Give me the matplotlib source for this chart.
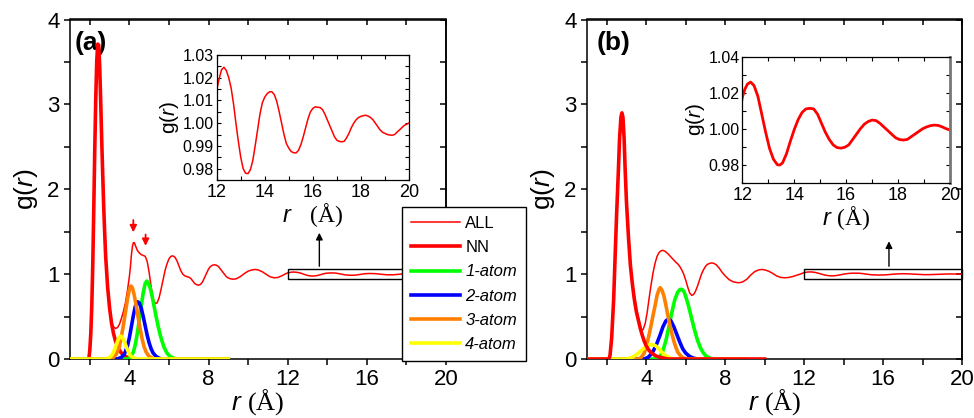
import matplotlib
matplotlib.use("Agg")
import matplotlib.pyplot as plt
from matplotlib.patches import Rectangle
from matplotlib.lines import Line2D
from matplotlib.ticker import MultipleLocator

plt.rcParams['font.family'] = ['Liberation Sans', 'DejaVu Sans']
plt.rcParams['mathtext.fontset'] = 'custom'
plt.rcParams['mathtext.rm'] = 'Liberation Serif'
plt.rcParams['mathtext.it'] = 'Liberation Sans:italic'
plt.rcParams['mathtext.sf'] = 'Liberation Sans'

# ---------------- panel (a) ----------------
r_all_a = [1.0, 1.95, 2.0, 2.05, 2.1, 2.15, 2.2, 2.25, 2.3, 2.35, 2.4, 2.45, 2.5, 2.55, 2.6, 2.65,
           2.7, 2.75, 2.8, 2.85, 2.9, 2.95, 3.0, 3.05, 3.1, 3.2, 3.3, 3.4, 3.5, 3.6, 3.7, 3.8, 3.9,
           4.0, 4.05, 4.1, 4.15, 4.2, 4.25, 4.3, 4.4, 4.5, 4.6, 4.7, 4.8, 4.9, 5.0, 5.1, 5.2, 5.3,
           5.4, 5.5, 5.6, 5.7, 5.8, 5.9, 6.0, 6.1, 6.2, 6.3, 6.4, 6.5, 6.6, 6.7, 6.8, 6.9, 7.0, 7.1,
           7.2, 7.3, 7.4, 7.5, 7.6, 7.7, 7.8, 7.9, 8.0, 8.1, 8.2, 8.3, 8.4, 8.5, 8.6, 8.7, 8.8, 8.9,
           9.0, 9.1, 9.25, 9.4, 9.6, 9.8, 10.0, 10.2, 10.35, 10.5, 10.7, 10.9, 11.1, 11.3, 11.5,
           11.7, 11.9,
           12.0, 12.1, 12.2, 12.3, 12.4, 12.5, 12.6, 12.7, 12.8, 12.9, 13.0, 13.1, 13.2, 13.3, 13.4,
           13.5, 13.6, 13.7, 13.8, 13.9, 14.0, 14.1, 14.2, 14.3, 14.4, 14.5, 14.6, 14.7, 14.8, 14.9,
           15.0, 15.1, 15.2, 15.3, 15.4, 15.5, 15.6, 15.7, 15.8, 15.9, 16.0, 16.1, 16.2, 16.3, 16.4,
           16.5, 16.6, 16.7, 16.8, 16.9, 17.0, 17.1, 17.2, 17.3, 17.4, 17.5, 17.6, 17.7, 17.8, 17.9,
           18.0, 18.1, 18.2, 18.3, 18.4, 18.5, 18.6, 18.7, 18.8, 18.9, 19.0, 19.1, 19.2, 19.3, 19.4,
           19.5, 19.6, 19.7, 19.8, 19.9, 20.0]
g_all_a = [0, 0, 0.10, 0.30, 0.62, 1.10, 1.75, 2.45, 3.05, 3.50, 3.71, 3.70, 3.45, 3.05, 2.60, 2.20,
           1.85, 1.55, 1.28, 1.05, 0.87, 0.72, 0.60, 0.50, 0.43, 0.38, 0.36, 0.37, 0.41, 0.48, 0.56,
           0.66, 0.80, 0.97, 1.08, 1.22, 1.32, 1.37, 1.37, 1.34, 1.28, 1.25, 1.23, 1.22, 1.21, 1.15,
           1.02, 0.85, 0.71, 0.655, 0.66, 0.72, 0.82, 0.93, 1.04, 1.12, 1.18, 1.21, 1.215, 1.20,
           1.16, 1.10, 1.04, 1.00, 0.98, 0.97, 0.965, 0.95, 0.92, 0.89, 0.875, 0.87, 0.88, 0.91,
           0.96, 1.01, 1.06, 1.09, 1.105, 1.11, 1.105, 1.09, 1.06, 1.03, 1.00, 0.97, 0.955, 0.945,
           0.94, 0.945, 0.97, 1.005, 1.035, 1.05, 1.055, 1.05, 1.03, 1.00, 0.97, 0.957, 0.96, 0.98,
           1.005,
           1.0146, 1.0195, 1.0235, 1.0246, 1.0232, 1.0200, 1.0155, 1.0085, 1.0000, 0.9920, 0.9850,
           0.9800, 0.9780, 0.9778, 0.9795, 0.9835, 0.9900, 0.9970, 1.0040, 1.0090, 1.0115, 1.0130,
           1.0138, 1.0138, 1.0125, 1.0095, 1.0050, 1.0000, 0.9950, 0.9910, 0.9890, 0.9875, 0.9870,
           0.9869, 0.9880, 0.9905, 0.9940, 0.9980, 1.0020, 1.0050, 1.0065, 1.0072, 1.0070, 1.0069,
           1.0060, 1.0040, 1.0015, 0.9990, 0.9965, 0.9940, 0.9925, 0.9920, 0.9918, 0.9920, 0.9935,
           0.9955, 0.9980, 1.0000, 1.0015, 1.0025, 1.0030, 1.0033, 1.0035, 1.0031, 1.0025, 1.0015,
           1.0000, 0.9985, 0.9970, 0.9960, 0.9955, 0.9950, 0.9948, 0.9947, 0.9950, 0.9960, 0.9970,
           0.9980, 0.9990, 0.9995, 1.0001]

r_nn_a = [1.0, 1.95, 2.0, 2.05, 2.1, 2.15, 2.2, 2.25, 2.3, 2.35, 2.4, 2.45, 2.5, 2.55, 2.6, 2.65,
          2.7, 2.75, 2.8, 2.9, 3.0, 3.1, 3.2, 3.3, 3.45, 3.6, 3.8, 4.0, 4.3]
g_nn_a = [0, 0, 0.10, 0.30, 0.62, 1.10, 1.75, 2.45, 3.05, 3.50, 3.71, 3.70, 3.45, 3.05, 2.60, 2.20,
          1.82, 1.50, 1.22, 0.85, 0.60, 0.42, 0.30, 0.21, 0.12, 0.07, 0.03, 0.01, 0]

r_1at_a = [1.0, 3.9, 4.05, 4.2, 4.3, 4.4, 4.5, 4.6, 4.7, 4.8, 4.88, 4.95, 5.05, 5.15, 5.25, 5.35,
           5.45, 5.55, 5.65, 5.75, 5.9, 6.05, 6.25, 6.4, 9.0]
g_1at_a = [0, 0, 0.02, 0.08, 0.17, 0.30, 0.46, 0.63, 0.78, 0.89, 0.918, 0.90, 0.84, 0.74, 0.62, 0.50,
           0.39, 0.29, 0.21, 0.14, 0.07, 0.03, 0.008, 0, 0]
r_2at_a = [1.0, 3.4, 3.6, 3.75, 3.9, 4.0, 4.1, 4.2, 4.3, 4.42, 4.5, 4.6, 4.7, 4.8, 4.9, 5.0, 5.1,
           5.2, 5.35, 5.55, 5.7, 9.0]
g_2at_a = [0, 0, 0.02, 0.06, 0.15, 0.25, 0.38, 0.51, 0.62, 0.674, 0.66, 0.60, 0.50, 0.39, 0.28, 0.19,
           0.12, 0.07, 0.03, 0.005, 0, 0]
r_3at_a = [1.0, 3.0, 3.2, 3.35, 3.5, 3.6, 3.7, 3.8, 3.9, 4.0, 4.08, 4.15, 4.25, 4.35, 4.45, 4.55,
           4.65, 4.75, 4.85, 5.0, 5.2, 5.4, 9.0]
g_3at_a = [0, 0, 0.02, 0.06, 0.15, 0.27, 0.40, 0.55, 0.70, 0.82, 0.86, 0.84, 0.75, 0.62, 0.48, 0.35,
           0.23, 0.14, 0.08, 0.03, 0.005, 0, 0]
r_4at_a = [1.0, 2.8, 2.95, 3.1, 3.2, 3.3, 3.4, 3.5, 3.55, 3.6, 3.7, 3.8, 3.9, 4.0, 4.1, 4.25, 4.4, 9.0]
g_4at_a = [0, 0, 0.01, 0.04, 0.08, 0.14, 0.21, 0.26, 0.27, 0.265, 0.23, 0.17, 0.11, 0.06, 0.03, 0.01,
           0, 0]

# ---------------- panel (b) ----------------
r_all_b = [1.0, 2.12, 2.17, 2.25, 2.35, 2.43, 2.5, 2.59, 2.65, 2.72, 2.77, 2.82, 2.88, 2.93, 3.0,
           3.1, 3.2, 3.3, 3.4, 3.5, 3.6, 3.7, 3.78, 3.85, 3.95, 4.05, 4.15, 4.25, 4.35, 4.45, 4.55,
           4.65, 4.75, 4.85, 4.95, 5.1, 5.3, 5.5, 5.6, 5.7, 5.8, 5.9, 6.0, 6.1, 6.2, 6.3, 6.4, 6.5,
           6.6, 6.7, 6.8, 6.9, 7.0, 7.1, 7.25, 7.4, 7.55, 7.7, 7.85, 8.0, 8.2, 8.4, 8.6, 8.75, 8.9,
           9.1, 9.3, 9.5, 9.7, 9.87, 10.0, 10.2, 10.4, 10.6, 10.8, 11.0, 11.2, 11.4, 11.6, 11.8,
           12.0, 12.1, 12.2, 12.32, 12.45, 12.6, 12.75, 12.9, 13.05, 13.2, 13.35, 13.44, 13.55, 13.7,
           13.85, 14.0, 14.15, 14.3, 14.45, 14.6, 14.75, 14.9, 15.05, 15.2, 15.35, 15.5, 15.65, 15.8,
           15.95, 16.1, 16.25, 16.4, 16.55, 16.7, 16.85, 17.0, 17.15, 17.3, 17.45, 17.6, 17.75, 17.9,
           18.05, 18.2, 18.35, 18.5, 18.65, 18.8, 18.95, 19.1, 19.25, 19.4, 19.55, 19.7, 19.85, 20.0]
g_all_b = [0, 0, 0.05, 0.25, 0.70, 1.24, 1.70, 2.22, 2.60, 2.85, 2.90, 2.85, 2.60, 2.25, 1.85,
           1.44, 1.12, 0.90, 0.74, 0.60, 0.48, 0.39, 0.34, 0.35, 0.42, 0.55, 0.72, 0.88, 1.02, 1.13,
           1.21, 1.255, 1.275, 1.28, 1.27, 1.24, 1.19, 1.14, 1.12, 1.09, 1.05, 1.00, 0.93, 0.85,
           0.78, 0.75, 0.76, 0.80, 0.86, 0.93, 1.00, 1.05, 1.09, 1.115, 1.13, 1.13, 1.11, 1.07, 1.02,
           0.98, 0.935, 0.91, 0.90, 0.90, 0.91, 0.94, 0.99, 1.03, 1.05, 1.055, 1.05, 1.035, 1.01,
           0.98, 0.962, 0.957, 0.96, 0.97, 0.985, 1.00,
           1.0174, 1.0220, 1.0248, 1.0259, 1.0240, 1.0180, 1.0080, 0.9980, 0.9890, 0.9830, 0.9800,
           0.9798, 0.9810, 0.9860, 0.9930, 0.9995, 1.0050, 1.0090, 1.0110, 1.0113, 1.0110, 1.0080,
           1.0030, 0.9980, 0.9940, 0.9910, 0.9895, 0.9892, 0.9897, 0.9910, 0.9940, 0.9970, 1.0000,
           1.0025, 1.0040, 1.0048, 1.0045, 1.0030, 1.0010, 0.9990, 0.9970, 0.9950, 0.9940, 0.9937,
           0.9940, 0.9955, 0.9970, 0.9985, 1.0000, 1.0010, 1.0017, 1.0020, 1.0018, 1.0010, 1.0000,
           0.9993]

r_nn_b = [1.0, 2.12, 2.17, 2.25, 2.35, 2.43, 2.5, 2.59, 2.65, 2.72, 2.77, 2.82, 2.88, 2.93, 3.0,
          3.1, 3.2, 3.3, 3.4, 3.5, 3.6, 3.7, 3.8, 3.9, 4.0, 4.15, 4.3, 4.5, 4.7, 4.9, 5.1, 10.0]
g_nn_b = [0, 0, 0.05, 0.25, 0.70, 1.24, 1.70, 2.22, 2.60, 2.85, 2.90, 2.85, 2.60, 2.25, 1.85,
          1.44, 1.10, 0.88, 0.70, 0.56, 0.46, 0.36, 0.28, 0.21, 0.155, 0.10, 0.065, 0.035, 0.02,
          0.01, 0, 0]

r_1at_b = [1.0, 4.5, 4.7, 4.85, 5.0, 5.15, 5.3, 5.45, 5.6, 5.72, 5.81, 5.9, 6.0, 6.15, 6.3, 6.45,
           6.6, 6.75, 6.9, 7.05, 7.25, 7.4, 9.0]
g_1at_b = [0, 0, 0.03, 0.10, 0.22, 0.38, 0.55, 0.70, 0.79, 0.82, 0.82, 0.80, 0.74, 0.62, 0.48, 0.34,
           0.22, 0.13, 0.07, 0.03, 0.01, 0, 0]
r_2at_b = [1.0, 3.9, 4.1, 4.3, 4.5, 4.7, 4.85, 5.0, 5.13, 5.25, 5.4, 5.55, 5.7, 5.85, 6.0, 6.2, 6.4,
           6.6, 9.0]
g_2at_b = [0, 0, 0.02, 0.07, 0.16, 0.28, 0.38, 0.45, 0.47, 0.45, 0.38, 0.29, 0.20, 0.12, 0.07, 0.03,
           0.01, 0, 0]
r_3at_b = [1.0, 3.6, 3.75, 3.9, 4.0, 4.12, 4.25, 4.35, 4.46, 4.55, 4.65, 4.71, 4.8, 4.9, 5.0, 5.1,
           5.2, 5.3, 5.4, 5.5, 5.6, 5.75, 5.9, 6.1, 9.0]
g_3at_b = [0, 0, 0.02, 0.07, 0.14, 0.26, 0.40, 0.52, 0.64, 0.75, 0.82, 0.84, 0.81, 0.74, 0.63, 0.51,
           0.40, 0.30, 0.21, 0.14, 0.08, 0.035, 0.01, 0, 0]
r_4at_b = [1.0, 3.0, 3.3, 3.5, 3.7, 3.9, 4.05, 4.25, 4.45, 4.6, 4.75, 4.9, 5.05, 5.2, 5.4, 9.0]
g_4at_b = [0, 0, 0.02, 0.05, 0.09, 0.13, 0.16, 0.17, 0.16, 0.13, 0.09, 0.055, 0.03, 0.012, 0, 0]

labels = ['ALL', 'NN', '1-atom', '2-atom', '3-atom', '4-atom']
colors = ['#ff0000', '#ff0000', '#00ff00', '#0000ff', '#ff8000', '#ffff00']

W, H = 974, 418
fig = plt.figure(figsize=(W / 100, H / 100), dpi=100)


def px_axes(left, top, right, bottom):
    return fig.add_axes([left / W, 1 - bottom / H, (right - left) / W, (bottom - top) / H])


def style_main(ax):
    ax.set_xlim(1, 20)
    ax.set_ylim(0, 4)
    ax.xaxis.set_major_locator(MultipleLocator(4))
    ax.xaxis.set_minor_locator(MultipleLocator(2))
    ax.yaxis.set_major_locator(MultipleLocator(1))
    ax.yaxis.set_minor_locator(MultipleLocator(0.5))
    ax.tick_params(which='both', direction='out', top=False, right=False, labelsize=16,
                   width=1.1, length=4.5, pad=3)
    for s in ax.spines.values():
        s.set_linewidth(1.1)
    ax.set_xlabel(r'$\mathit{r}\ \mathrm{(Å)}$', fontsize=19, labelpad=-2)
    ax.set_ylabel(r'$\mathsf{g(}\mathit{r}\mathsf{)}$', fontsize=19, labelpad=5)


def add_inner_ticks(ax):
    top = ax.secondary_xaxis('top')
    top.xaxis.set_major_locator(MultipleLocator(4))
    top.xaxis.set_minor_locator(MultipleLocator(2))
    top.tick_params(which='both', direction='in', labeltop=False, length=4.5, width=1.1)
    top.spines['top'].set_linewidth(1.1)
    right = ax.secondary_yaxis('right')
    right.yaxis.set_major_locator(MultipleLocator(1))
    right.yaxis.set_minor_locator(MultipleLocator(0.5))
    right.tick_params(which='both', direction='in', labelright=False, length=4.5, width=1.1)
    right.spines['right'].set_linewidth(1.1)


def style_inset(ax, ylim, ystep, ylabels_fmt):
    ax.set_xlim(12, 20)
    ax.set_ylim(*ylim)
    ax.xaxis.set_major_locator(MultipleLocator(2))
    ax.xaxis.set_minor_locator(MultipleLocator(1))
    ax.yaxis.set_major_locator(MultipleLocator(ystep))
    ax.yaxis.set_minor_locator(MultipleLocator(ystep / 2))
    ax.yaxis.set_major_formatter(ylabels_fmt)
    ax.tick_params(which='both', top=True, right=True, direction='in', length=3, width=0.8)
    ax.tick_params(axis='x', labelsize=13, pad=3)
    ax.tick_params(axis='y', labelsize=11.5, pad=2)
    for s in ax.spines.values():
        s.set_linewidth(0.9)
    ax.set_ylabel(r'$\mathsf{g(}\mathit{r}\mathsf{)}$', fontsize=15, labelpad=1)


# main panel (a)
ax_a = px_axes(70, 19.5, 446, 359)
ax_a.plot(r_all_a, g_all_a, color=colors[0], lw=1.1, zorder=3)
ax_a.plot(r_nn_a, g_nn_a, color=colors[1], lw=2.6, zorder=4)
ax_a.plot(r_1at_a, g_1at_a, color=colors[2], lw=2.6, zorder=5)
ax_a.plot(r_2at_a, g_2at_a, color=colors[3], lw=2.6, zorder=5)
ax_a.plot(r_3at_a, g_3at_a, color=colors[4], lw=2.6, zorder=6)
ax_a.plot(r_4at_a, g_4at_a, color=colors[5], lw=2.6, zorder=7)
style_main(ax_a)
add_inner_ticks(ax_a)
ax_a.text(0.011, 0.965, '(a)', transform=ax_a.transAxes, fontsize=19, fontweight='bold',
          ha='left', va='top')
ax_a.add_patch(Rectangle((12, 0.94), 8, 0.12, fill=False, ec='black', lw=1.0, zorder=8))
ax_a.annotate('', xy=(13.6, 1.52), xytext=(13.6, 1.06),
              arrowprops=dict(arrowstyle='-|>', color='black', lw=1.0, mutation_scale=10))
for xa, y0, y1 in [(4.2, 1.67, 1.46), (4.82, 1.50, 1.30)]:
    ax_a.annotate('', xy=(xa, y1), xytext=(xa, y0),
                  arrowprops=dict(arrowstyle='-|>', color='#ff0000', lw=1.3, mutation_scale=10))

# main panel (b)
ax_b = px_axes(587, 19.5, 962, 359)
ax_b.plot(r_all_b, g_all_b, color=colors[0], lw=1.1, zorder=3)
ax_b.plot(r_1at_b, g_1at_b, color=colors[2], lw=2.6, zorder=4)
ax_b.plot(r_2at_b, g_2at_b, color=colors[3], lw=2.6, zorder=4)
ax_b.plot(r_3at_b, g_3at_b, color=colors[4], lw=2.6, zorder=5)
ax_b.plot(r_4at_b, g_4at_b, color=colors[5], lw=2.6, zorder=5)
ax_b.plot(r_nn_b, g_nn_b, color=colors[1], lw=2.6, zorder=6)
style_main(ax_b)
add_inner_ticks(ax_b)
ax_b.text(0.027, 0.965, '(b)', transform=ax_b.transAxes, fontsize=19, fontweight='bold',
          ha='left', va='top')
ax_b.add_patch(Rectangle((12, 0.94), 8, 0.12, fill=False, ec='black', lw=1.0, zorder=8,
                         clip_on=False))
ax_b.annotate('', xy=(16.3, 1.42), xytext=(16.3, 1.06),
              arrowprops=dict(arrowstyle='-|>', color='black', lw=1.0, mutation_scale=10))

# insets
in_a = px_axes(216.7, 55, 409, 180)
in_a.plot(r_all_a, g_all_a, color='#ff0000', lw=1.1)
style_inset(in_a, (0.975, 1.03), 0.01, '{x:.2f}')
in_a.set_xlabel(r'$\mathit{r}\quad\mathrm{(Å)}$', fontsize=17, labelpad=0)

in_b = px_axes(742.3, 56.7, 950, 182.7)
in_b.plot(r_all_b, g_all_b, color='#ff0000', lw=2.0)
style_inset(in_b, (0.97, 1.04), 0.02, '{x:.2f}')
in_b.spines['right'].set_color('#777777')
in_b.spines['right'].set_linewidth(2)
in_b.set_xlabel(r'$\mathit{r}\ \mathrm{(Å)}$', fontsize=17, labelpad=0)

# shared legend straddling the gap between panels
handles = [Line2D([], [], color=colors[0], lw=1.1)] + \
          [Line2D([], [], color=c, lw=2.6) for c in colors[1:]]
leg = fig.legend(handles, labels, loc='upper left', bbox_to_anchor=(402 / W, 1 - 207 / H),
                 bbox_transform=fig.transFigure, fontsize=12, frameon=True, fancybox=False,
                 edgecolor='black', framealpha=1, handlelength=2.9, handletextpad=0.35,
                 labelspacing=0.55, borderpad=0.55, borderaxespad=0)
leg.get_frame().set_linewidth(1.0)
for t in leg.get_texts()[2:]:
    t.set_fontstyle('italic')

fig.savefig('out.png', dpi=100)
